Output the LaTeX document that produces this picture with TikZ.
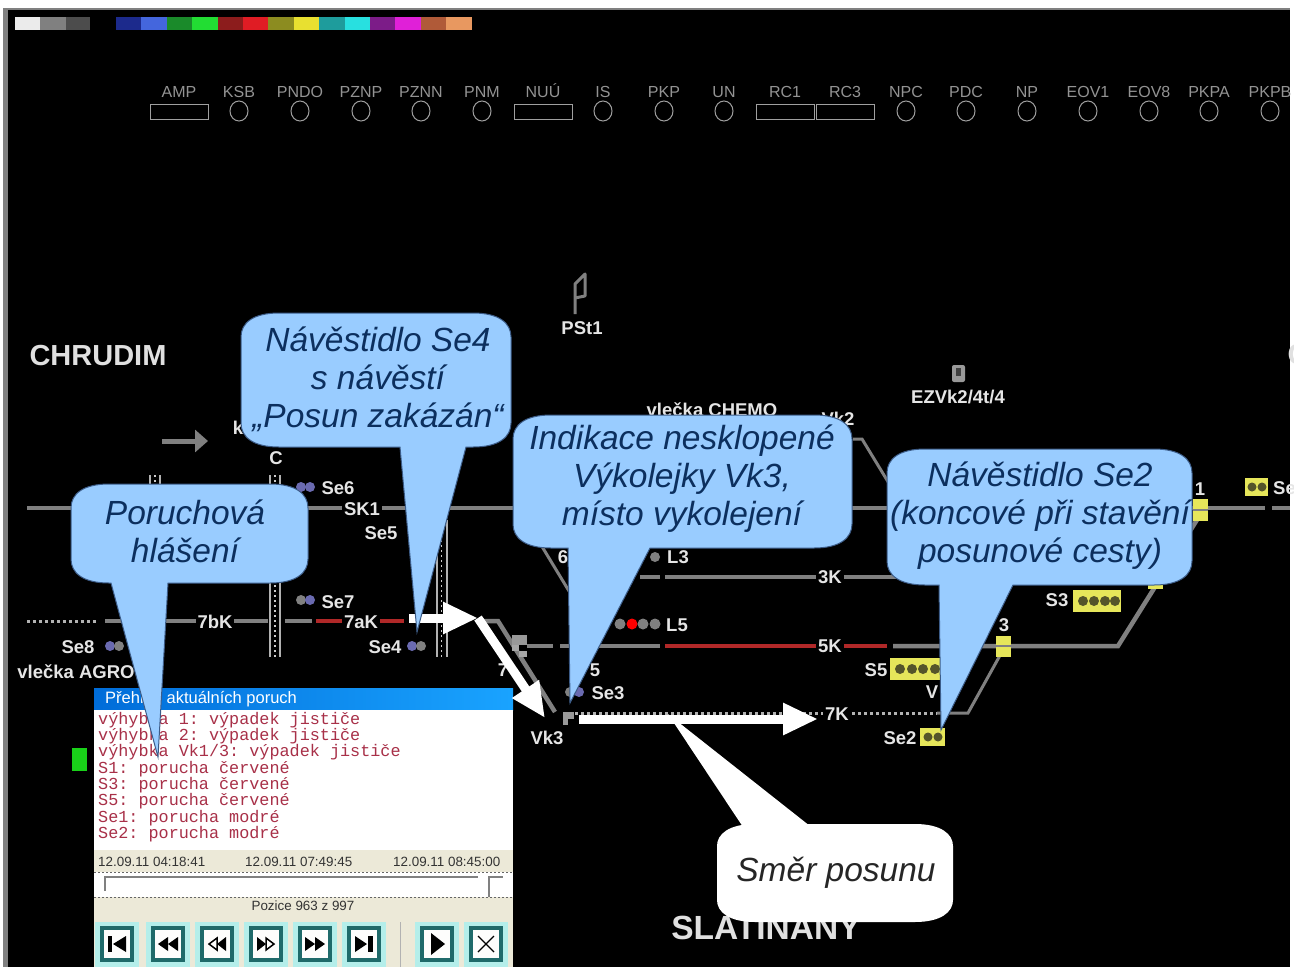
\documentclass[tikz,border=0pt]{standalone}
\usepackage{fontspec}
\setmainfont{Liberation Sans}
\setmonofont{Liberation Mono}
\usetikzlibrary{arrows.meta}
\definecolor{callout-blue}{HTML}{99CCFF}
\definecolor{callout-edge}{HTML}{3C5C88}
\definecolor{callout-text}{HTML}{0C2F5E}
\definecolor{track-gray}{HTML}{808080}
\definecolor{track-red}{HTML}{B02828}
\definecolor{panel-beige}{HTML}{ECE9D8}
\definecolor{lamp-yellow}{HTML}{E6E65A}
\definecolor{lamp-dark}{HTML}{55552A}
\definecolor{lamp-blue}{HTML}{6A6AB0}
\definecolor{button-teal}{HTML}{1F6A6A}
\definecolor{button-cyan}{HTML}{B4EEEA}
\definecolor{fault-red}{HTML}{A83048}
\tikzset{
	track/.style={track-gray,line width=4.5},
	redtrack/.style={track-red,line width=4.5},
	dottrack/.style={gray!60!white,line width=3,dash pattern=on 3 off 3},
	toplabel/.style={gray!85!white,anchor=base,font=\fontsize{16}{18}\selectfont,inner sep=0},
	tophollow/.style={gray!75!white,line width=1},
	biglabel/.style={white!88!black,font=\bfseries\fontsize{29}{32}\selectfont,inner sep=0},
	smalllabel/.style={white!90!black,font=\bfseries\fontsize{18.5}{21}\selectfont,inner sep=1},
	tracklabel/.style={smalllabel,fill=black,inner sep=2},
	callout/.style={fill=callout-blue,draw=callout-edge,line width=1},
	callouttext/.style={callout-text,align=center,inner sep=0,font=\itshape\fontsize{33.5}{38}\selectfont},
	bigarrow/.style={white,line width=9,-{Triangle[length=35,width=30]}},
	grayarrow/.style={track-gray,line width=5,-{Triangle[length=13,width=22]}},
	faultline/.style={fault-red,anchor=west,inner sep=0,font=\ttfamily\fontsize{16.8}{18}\selectfont},
	panellabel/.style={black!80!white,inner sep=0,font=\fontsize{13.4}{15}\selectfont}
}
\begin{document}
\begin{tikzpicture}[x=1pt,y=-1pt]

	\useasboundingbox (0,0) rectangle (1294,967);
	\clip (0,0) rectangle (1294,967);

	%--- BACKGROUND AND COLOUR BAR ----------

	\fill [white] (0,0) rectangle (1294,967);
	\fill [gray] (3,8) rectangle (1290,967);
	\fill [black] (8,10) rectangle (1290,967);

	\fill [white!92!black] (15,17) rectangle (40,30);
	\fill [gray] (40,17) rectangle (66,30);
	\fill [black!70!white] (66,17) rectangle (90,30);

	\foreach \i/\col in {0/1C2A8C,1/4466DD,2/1A8A2A,3/22DD33,4/8C1C1C,5/E01C24,6/8C8C20,7/E8E030,8/1E9C9C,9/28E0E0,10/7C1C88,11/E020D8,12/B05A38,13/E89860}{
		\definecolor{swatch}{HTML}{\col}
		\fill [swatch] (116+\i*25.4,17) rectangle ++(25.6,13);
	}

	%--- INDICATOR ROW ----------------------

	% Round indicators
	\foreach \x/\t in {239/KSB,300/PNDO,361/PZNP,421/PZNN,482/PNM,603/IS,664/PKP,724/UN,906/NPC,966/PDC,1027/NP,1088/EOV1,1149/EOV8,1209/PKPA,1270/PKPB}{
		\node [toplabel] (lab\t) at (\x,97) {\t};
		\draw [tophollow] (\x,111) ellipse (9 and 10);
	}

	% Box indicators
	\foreach \x/\t in {179/AMP,543/NUÚ,785/RC1,845/RC3}{
		\node [toplabel] (lab\t) at (\x,97) {\t};
		\draw [tophollow] (\x-29,104) rectangle (\x+29,119);
	}

	%--- TRACKS -----------------------------

	% Track corners
	\coordinate (A1) at (498,621);
	\coordinate (A2) at (555,712);
	\coordinate (B1) at (853,439);
	\coordinate (B2) at (862,439);
	\coordinate (B3) at (890,485);
	\coordinate (D1) at (535,535);
	\coordinate (D2) at (572,596);
	\coordinate (E1) at (1118,646);
	\coordinate (E2) at (1200,515);
	\coordinate (F1) at (1003,650);
	\coordinate (F2) at (968,713);
	\coordinate (G1) at (162,441);
	\coordinate (G2) at (208,441);

	% Direction arrow
	\draw [grayarrow] (G1) -- (G2);

	% Top track
	\draw [track] (27,508) -- (270,508);
	\draw [track] (285,508) -- (1265,508);
	\draw [track] (1272,508) -- (1290,508);

	% 7a and 7b track
	\draw [dottrack] (27,621) -- (97,621);
	\draw [track] (105,621) -- (268,621);
	\draw [track] (285,621) -- (312,621);
	\draw [redtrack] (316,621) -- (404,621);
	\draw [track] (478,621) -- (A1) -- (A2);

	% Station tracks
	\draw [track] (640,577) -- (660,577);
	\draw [track] (665,577) -- (905,577);
	\draw [track] (527,646) -- (553,646);
	\draw [track] (560,646) -- (660,646);
	\draw [redtrack] (665,646) -- (887,646);
	\draw [track] (893,646) -- (E1) -- (E2);
	\draw [track,line width=3] (B1) -- (B2) -- (B3);
	\draw [track,line width=3] (D1) -- (D2);
	\draw [track,line width=3] (F1) -- (F2) -- (937,713);

	% 7K dotted track
	\draw [dottrack] (575,713) -- (840,713);
	\draw [dottrack] (852,713) -- (937,713);

	% Crossings
	\foreach \x/\ya/\yb in {275/475/657,155/475/500,441.5/520/657}{
		\draw [black,line width=14] (\x,\ya) -- (\x,\yb);
		\draw [gray!60!white,line width=2] (\x-5,\ya) -- (\x-5,\yb);
		\draw [gray!60!white,line width=2] (\x+5,\ya) -- (\x+5,\yb);
		\draw [white!80!black,line width=1.5,dash pattern=on 2 off 3] (\x,\ya) -- (\x,\yb);
	}

	% Derailer blocks
	\fill [gray!80!white] (512,635) rectangle (527,645);
	\fill [gray!70!white] (512,645) rectangle (519,651);
	\fill [gray!70!white] (519,651) rectangle (527,657);
	\fill [gray!80!white] (563,712) rectangle (574,719);
	\fill [gray!80!white] (563,719) rectangle (568,725);

	% Indicator icons
	\draw [gray,line width=3,line join=round] (575,314) -- (575,284) -- (585,274) -- (585,296) -- (575,298);
	\fill [gray!80!white,rounded corners=2] (952,382) rectangle (965,365);
	\fill [gray!50!black] (956,368) rectangle (961,376);

	%--- TEXTS ------------------------------

	\node [biglabel] (chrudim) at (98,356) {CHRUDIM};
	\node [biglabel] (stationR) at (1298,355) {C};
	\node [biglabel,font=\bfseries\fontsize{33.5}{36}\selectfont] (slatinany) at (766,928) {SLATINANY};

	\node [smalllabel] (pst) at (582,328) {PSt1};
	\node [smalllabel] (ezvk) at (958,397) {EZVk2/4t/4};
	\node [smalllabel] (chemo) at (712,410) {vlečka CHEMO};
	\node [smalllabel] (vk2) at (838,419) {Vk2};
	\node [smalllabel] (k) at (238,428) {k};
	\node [smalllabel] (c) at (276,458) {C};
	\node [smalllabel] (se6) at (338,488) {Se6};
	\node [smalllabel] (se5) at (381,533) {Se5};
	\node [smalllabel] (se7) at (338,602) {Se7};
	\node [smalllabel] (se8) at (78,647) {Se8};
	\node [smalllabel] (se4) at (385,647) {Se4};
	\node [smalllabel] (agro) at (76,672) {vlečka AGRO};
	\node [smalllabel] (sw7) at (503,670) {7};
	\node [smalllabel] (sw6) at (563,557) {6};
	\node [smalllabel] (sw5) at (595,670) {5};
	\node [smalllabel] (se3) at (608,693) {Se3};
	\node [smalllabel] (vk3) at (547,738) {Vk3};
	\node [smalllabel] (l3) at (678,557) {L3};
	\node [smalllabel] (l5) at (677,625) {L5};
	\node [smalllabel] (s5) at (876,670) {S5};
	\node [smalllabel] (s3) at (1057,600) {S3};
	\node [smalllabel] (se2) at (900,738) {Se2};
	\node [smalllabel] (v) at (932,692) {V};
	\node [smalllabel] (sw3) at (1004,625) {3};
	\node [smalllabel] (sw1) at (1200,489) {1};
	\node [smalllabel,anchor=west] (se1) at (1272,488) {Se};

	\node [tracklabel] (sk1) at (362,509) {SK1};
	\node [tracklabel] (k7b) at (215,622) {7bK};
	\node [tracklabel] (k7a) at (361,622) {7aK};
	\node [tracklabel] (k3) at (830,577) {3K};
	\node [tracklabel] (k5) at (830,646) {5K};
	\node [tracklabel] (k7) at (837,714) {7K};

	%--- SIGNALS ----------------------------

	% Shunting lamps, blue one first or second
	\foreach \x/\y/\cola/\colb in {301/487/lamp-blue/lamp-blue,301/600/gray/lamp-blue,110/646/lamp-blue/gray,412/646/lamp-blue/gray,570/692/gray/lamp-blue}{
		\fill [\cola] (\x,\y) circle (5);
		\fill [\colb] (\x+9,\y) circle (5);
	}

	% Grey and red lamps
	\fill [gray] (655,557) circle (5);
	\foreach \x/\col in {620/gray,632/red,643/gray,655/gray}
		\fill [\col] (\x,624) circle (5.5);

	% Yellow lamp boxes
	\fill [lamp-yellow] (890,658) rectangle (942,680);
	\foreach \x in {900,912,923,935}
		\fill [lamp-dark] (\x,669) circle (5);
	\fill [lamp-yellow] (1073,590) rectangle (1121,612);
	\foreach \x in {1083,1094,1105,1115}
		\fill [lamp-dark] (\x,601) circle (5);
	\fill [lamp-yellow] (920,728) rectangle (945,746);
	\foreach \x in {928,938}
		\fill [lamp-dark] (\x,737) circle (4.5);
	\fill [lamp-yellow] (1245,478) rectangle (1268,496);
	\foreach \x in {1252,1262}
		\fill [lamp-dark] (\x,487) circle (4.5);

	% Yellow points
	\foreach \x/\y/\h in {1200/499/22,1003/636/21,1155/583/6}{
		\fill [lamp-yellow] (\x-7.5,\y) rectangle ++(15,\h);
	}
	\draw [track-gray,line width=2] (1193,510) -- (1208,510);
	\draw [track-gray,line width=2] (996,646) -- (1011,646);

	% Green lamp
	\fill [green!80!black!90!white] (72,748) rectangle (87,771);

	%--- FAULT WINDOW -----------------------

	\fill [panel-beige] (94,688) rectangle (513,967);
	\shade [left color=blue!50!cyan!85!black,right color=blue!40!cyan!90!white] (94,688) rectangle (513,710);
	\node [white,anchor=west,inner sep=0,font=\fontsize{16.5}{18}\selectfont] (title) at (105,699) {Přehled aktuálních poruch};
	\fill [white] (94,710) rectangle (513,850);

	% Fault list
	\foreach \n/\t in {0/{výhybka 1: výpadek jističe},1/{výhybka 2: výpadek jističe},2/{výhybka Vk1/3: výpadek jističe},3/{S1: porucha červené},4/{S3: porucha červené},5/{S5: porucha červené},6/{Se1: porucha modré},7/{Se2: porucha modré}}{
		\node [faultline] (fault\n) at (98,720+\n*16.3) {\t};
	}

	% Time row and slider
	\node [panellabel,anchor=west] (timeA) at (98,862) {12.09.11 04:18:41};
	\node [panellabel,anchor=west] (timeB) at (245,862) {12.09.11 07:49:45};
	\node [panellabel,anchor=west] (timeC) at (393,862) {12.09.11 08:45:00};
	\fill [white] (94,872) rectangle (513,897);
	\draw [black!60!white,dash pattern=on 2 off 2] (94,872) -- (513,872);
	\draw [black!60!white,dash pattern=on 2 off 2] (94,897) -- (513,897);
	\draw [gray,line width=1.5] (105,891) -- (105,877) -- (478,877);
	\draw [gray,line width=1.5] (489,897) -- (489,877) -- (503,877);
	\node [panellabel] (pozice) at (303,906) {Pozice 963 z 997};

	% Buttons
	\foreach \x in {117,168,217,266,315,364,437,486}{
		\fill [button-cyan] (\x-22,922) rectangle (\x+22,967);
		\draw [button-teal,line width=3.5,fill=white!92!panel-beige] (\x-15,928) rectangle (\x+15,960);
	}
	\draw [gray!60!white] (400,922) -- (400,967);

	% Button glyphs
	\fill [black] (108,936) rectangle (112,952);
	\fill [black] (126,936) -- (126,952) -- (113,944) -- cycle;
	\fill [black] (168,937) -- (168,951) -- (158,944) -- cycle;
	\fill [black] (178,937) -- (178,951) -- (168,944) -- cycle;
	\draw [black,line width=1.5] (217,938) -- (217,950) -- (209,944) -- cycle;
	\fill [black] (226,937) -- (226,951) -- (217,944) -- cycle;
	\fill [black] (257,937) -- (257,951) -- (266,944) -- cycle;
	\draw [black,line width=1.5] (266,938) -- (266,950) -- (274,944) -- cycle;
	\fill [black] (305,937) -- (305,951) -- (315,944) -- cycle;
	\fill [black] (315,937) -- (315,951) -- (325,944) -- cycle;
	\fill [black] (355,936) -- (355,952) -- (367,944) -- cycle;
	\fill [black] (368,936) rectangle (373,952);
	\fill [black] (431,933) -- (431,955) -- (445,944) -- cycle;
	\draw [black,line width=1.2] (478,936) -- (494,952);
	\draw [black,line width=1.2] (478,952) -- (494,936);

	%--- BIG ARROWS -------------------------

	\coordinate (P1) at (409,618);
	\coordinate (P2) at (478,618);
	\coordinate (P3) at (545,718);
	\coordinate (P4) at (579,719);
	\coordinate (P5) at (818,719);

	\draw [bigarrow] (P1) -- (P2);
	\draw [bigarrow] (P2) -- (P3);
	\draw [bigarrow] (P4) -- (P5);

	%--- CALLOUTS ---------------------------

	% Blue callouts: box, wedge base and wedge tip
	\foreach \xa/\ya/\xb/\yb/\wa/\wb/\tx/\ty in {241/313/511/447/400/466/417/632,71/484/308/583/111/168/158/757,513/415/852/548/568/650/570/703,887/449/1192/585/939/1013/941/730}{
		\draw [callout] (\xa+38,\ya) -- (\xb-38,\ya)
			.. controls (\xb-12,\ya) and (\xb,\ya+10) .. (\xb,\ya+24)
			-- (\xb,\yb-24)
			.. controls (\xb,\yb-10) and (\xb-12,\yb) .. (\xb-38,\yb)
			-- (\wb,\yb) -- (\tx,\ty) -- (\wa,\yb) -- (\xa+38,\yb)
			.. controls (\xa+12,\yb) and (\xa,\yb-10) .. (\xa,\yb-24)
			-- (\xa,\ya+24)
			.. controls (\xa,\ya+10) and (\xa+12,\ya) .. (\xa+38,\ya) -- cycle;
	}

	% White callout
	\fill [white] (745,830) -- (815,830) -- (668,714) -- cycle;
	\fill [white] (755,824) -- (915,824)
		.. controls (941,824) and (953,834) .. (953,846)
		-- (953,900)
		.. controls (953,912) and (941,922) .. (915,922)
		-- (755,922)
		.. controls (729,922) and (717,912) .. (717,900)
		-- (717,846)
		.. controls (717,834) and (729,824) .. (755,824) -- cycle;

	% Callout texts
	\node [callouttext] (noteSeFour) at (378,379) {Návěstidlo Se4\\s návěstí\\„Posun zakázán“};
	\node [callouttext] (noteFaults) at (185,531) {Poruchová\\hlášení};
	\node [callouttext] (noteDerail) at (682,479) {Indikace nesklopené\\Výkolejky Vk3,\\místo vykolejení};
	\node [callouttext] (noteSeTwo) at (1040,516) {Návěstidlo Se2\\(koncové při stavění\\posunové cesty)};
	\node [callouttext,black!85!white] (noteDir) at (836,873) {Směr posunu};

\end{tikzpicture}
\end{document}
